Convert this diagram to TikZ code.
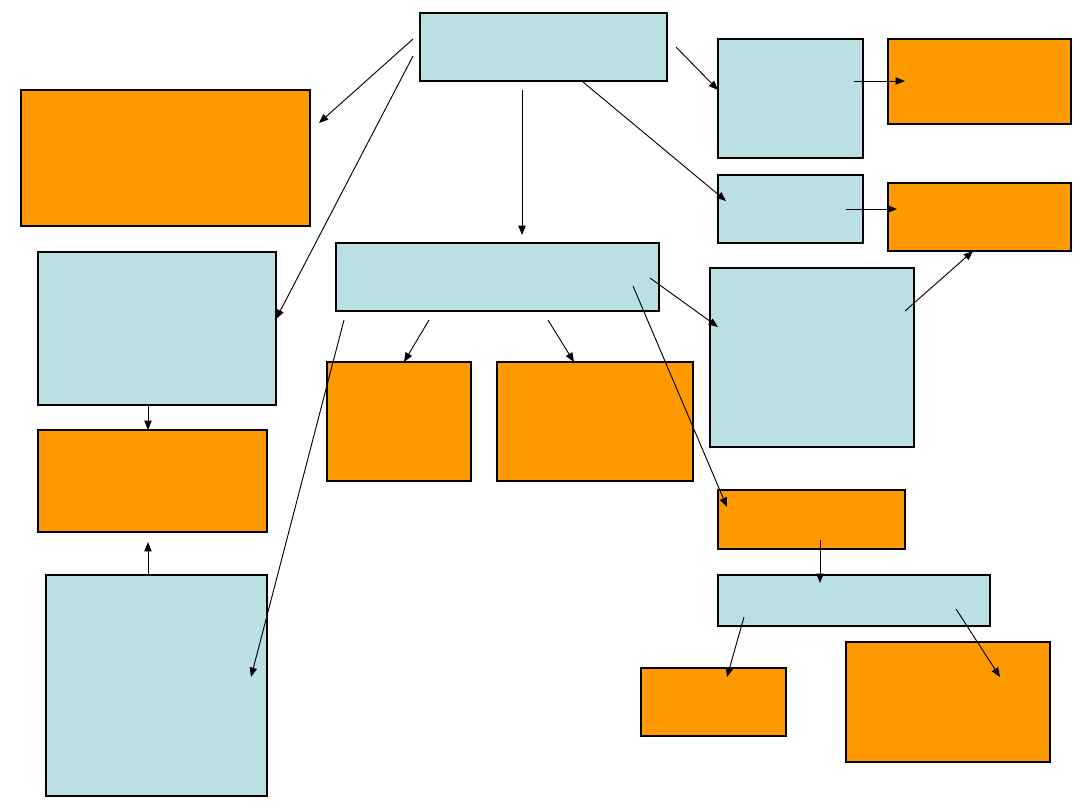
\documentclass[tikz,border=0pt]{standalone}
\usetikzlibrary{fit,arrows.meta}
\definecolor{boxblue}{HTML}{BBE0E3}
\definecolor{boxorange}{HTML}{FF9900}
\tikzset{
  bluebox/.style={draw=black, fill=boxblue, line width=0.8pt, inner sep=0pt, rectangle},
  orangebox/.style={draw=black, fill=boxorange, line width=0.8pt, inner sep=0pt, rectangle},
  arr/.style={-{Triangle[length=7pt,width=5.5pt]}, line width=0.7pt, black}
}
\begin{document}
\begin{tikzpicture}[x=0.75pt,y=-0.75pt]
\useasboundingbox (0,0) rectangle (1080,810);
% boxes
\node[bluebox, fit={(420,13) (667,81)}] (top) {};
\node[orangebox, fit={(21,90) (310,226)}] (A) {};
\node[bluebox, fit={(38,252) (276,405)}] (B) {};
\node[orangebox, fit={(38,430) (267,532)}] (C) {};
\node[bluebox, fit={(46,575) (267,796)}] (D) {};
\node[bluebox, fit={(336,243) (659,311)}] (E) {};
\node[orangebox, fit={(327,362) (471,481)}] (F) {};
\node[orangebox, fit={(497,362) (693,481)}] (G) {};
\node[bluebox, fit={(718,39) (863,158)}] (H) {};
\node[orangebox, fit={(888,39) (1071,124)}] (I) {};
\node[bluebox, fit={(718,175) (863,243)}] (J) {};
\node[orangebox, fit={(888,183) (1071,251)}] (K) {};
\node[bluebox, fit={(710,268) (914,447)}] (L) {};
\node[orangebox, fit={(718,490) (905,549)}] (M) {};
\node[bluebox, fit={(718,575) (990,626)}] (N) {};
\node[orangebox, fit={(641,668) (786,736)}] (O) {};
\node[orangebox, fit={(846,642) (1050,762)}] (P) {};
% arrow endpoints
\coordinate (s1) at (413,39);  \coordinate (e1) at (319,123);
\coordinate (s2) at (413,56);  \coordinate (e2) at (276,319);
\coordinate (s3) at (522,90);  \coordinate (e3) at (522,235);
\coordinate (s4) at (583,82);  \coordinate (e4) at (726,201);
\coordinate (s5) at (676,47);  \coordinate (e5) at (718,90);
\coordinate (s6) at (854,81);  \coordinate (e6) at (905,81);
\coordinate (s7) at (846,209); \coordinate (e7) at (897,209);
\coordinate (s8) at (905,311); \coordinate (e8) at (973,251);
\coordinate (s9) at (650,278); \coordinate (e9) at (718,327);
\coordinate (s10) at (633,286); \coordinate (e10) at (727,507);
\coordinate (s11) at (429,320); \coordinate (e11) at (404,362);
\coordinate (s12) at (548,320); \coordinate (e12) at (574,362);
\coordinate (s13) at (344,320); \coordinate (e13) at (251,677);
\coordinate (s14) at (148,405); \coordinate (e14) at (148,430);
\coordinate (s15) at (148,575); \coordinate (e15) at (148,542);
\coordinate (s16) at (820,540); \coordinate (e16) at (820,583);
\coordinate (s17) at (744,617); \coordinate (e17) at (727,677);
\coordinate (s18) at (956,609); \coordinate (e18) at (1000,677);
\foreach \i in {1,...,18} { \draw[arr] (s\i) -- (e\i); }
\end{tikzpicture}
\end{document}
